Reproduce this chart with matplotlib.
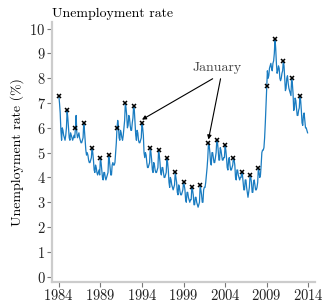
import numpy as np
import matplotlib
matplotlib.use("Agg")
import matplotlib.pyplot as plt

# monthly unemployment rate (%), Jan..Dec, one row per year
years = list(range(1984, 2014))
rates = [
    [7.3, 7.0, 6.6, 5.9, 5.5, 6.0, 5.9, 5.7, 5.6, 5.5, 5.7, 6.0],  # 1984
    [6.7, 6.4, 6.0, 5.6, 5.5, 5.8, 5.7, 5.6, 5.5, 5.6, 5.7, 5.6],  # 1985
    [6.0, 6.5, 5.8, 5.6, 5.7, 5.8, 5.6, 5.5, 5.4, 5.4, 5.5, 5.6],  # 1986
    [6.2, 5.9, 5.5, 5.1, 4.9, 5.0, 4.9, 4.7, 4.6, 4.6, 4.7, 4.8],  # 1987
    [5.2, 5.0, 4.7, 4.3, 4.2, 4.5, 4.4, 4.2, 4.1, 4.2, 4.3, 4.1],  # 1988
    [4.8, 4.6, 4.3, 4.0, 3.9, 4.2, 4.2, 4.0, 3.9, 4.0, 4.1, 4.2],  # 1989
    [4.9, 4.7, 4.4, 4.1, 4.1, 4.5, 4.6, 4.5, 4.5, 4.6, 5.0, 5.4],  # 1990
    [6.0, 6.3, 6.1, 5.6, 5.5, 5.9, 5.8, 5.6, 5.5, 5.7, 6.0, 6.3],  # 1991
    [7.0, 6.8, 6.5, 6.0, 6.1, 6.5, 6.4, 6.1, 5.9, 5.9, 6.2, 6.4],  # 1992
    [6.9, 6.7, 6.2, 5.7, 5.5, 5.9, 5.8, 5.5, 5.4, 5.4, 5.5, 5.6],  # 1993
    [6.2, 6.0, 5.7, 5.0, 4.8, 5.0, 4.9, 4.6, 4.4, 4.4, 4.5, 4.6],  # 1994
    [5.2, 5.0, 4.7, 4.3, 4.2, 4.6, 4.5, 4.3, 4.2, 4.2, 4.3, 4.4],  # 1995
    [5.1, 4.9, 4.6, 4.2, 4.1, 4.4, 4.4, 4.2, 4.0, 4.0, 4.1, 4.2],  # 1996
    [4.8, 4.6, 4.3, 3.8, 3.6, 4.0, 3.9, 3.7, 3.6, 3.5, 3.6, 3.7],  # 1997
    [4.2, 4.0, 3.8, 3.4, 3.3, 3.7, 3.6, 3.4, 3.3, 3.3, 3.4, 3.5],  # 1998
    [3.8, 3.7, 3.5, 3.1, 3.0, 3.4, 3.4, 3.2, 3.1, 3.0, 3.1, 3.1],  # 1999
    [3.6, 3.5, 3.3, 2.9, 2.9, 3.2, 3.2, 3.0, 2.9, 2.8, 2.9, 3.0],  # 2000
    [3.7, 3.5, 3.3, 3.0, 3.0, 3.5, 3.6, 3.6, 3.8, 4.1, 4.4, 4.8],  # 2001
    [5.4, 5.3, 5.0, 4.6, 4.5, 5.0, 5.0, 4.8, 4.6, 4.6, 4.8, 5.0],  # 2002
    [5.5, 5.4, 5.1, 4.7, 4.7, 5.2, 5.1, 4.9, 4.7, 4.7, 4.8, 4.8],  # 2003
    [5.3, 5.1, 4.8, 4.4, 4.3, 4.7, 4.8, 4.5, 4.3, 4.3, 4.4, 4.5],  # 2004
    [4.8, 4.7, 4.5, 4.0, 3.9, 4.3, 4.3, 4.1, 4.0, 3.9, 4.0, 4.0],  # 2005
    [4.2, 4.1, 3.8, 3.5, 3.5, 3.9, 3.9, 3.6, 3.4, 3.2, 3.4, 3.6],  # 2006
    [4.1, 4.0, 3.8, 3.4, 3.4, 3.8, 3.9, 3.7, 3.5, 3.5, 3.6, 3.8],  # 2007
    [4.4, 4.2, 4.0, 4.1, 4.5, 5.0, 5.1, 5.1, 5.2, 5.6, 6.2, 6.9],  # 2008
    [7.7, 8.3, 8.0, 8.1, 8.4, 8.5, 8.6, 8.4, 8.3, 8.6, 8.7, 9.0],  # 2009
    [9.6, 9.2, 8.6, 8.2, 8.3, 8.5, 8.4, 8.0, 7.9, 8.0, 8.2, 8.3],  # 2010
    [8.7, 8.5, 8.0, 7.5, 7.6, 8.0, 8.1, 7.8, 7.6, 7.5, 7.4, 7.3],  # 2011
    [8.0, 7.8, 7.4, 6.7, 6.8, 7.2, 7.1, 6.8, 6.5, 6.5, 6.7, 6.8],  # 2012
    [7.3, 7.1, 6.7, 6.2, 6.1, 6.5, 6.6, 6.3, 6.0, 6.0, 5.9, 5.8],  # 2013
]
xticks = [1984, 1989, 1994, 1999, 2004, 2009, 2014]
yticks = list(range(0, 11))
annot_years = [1994, 2002]

plt.rcParams["font.family"] = ["cmr10", "DejaVu Serif"]
plt.rcParams["axes.formatter.use_mathtext"] = True
plt.rcParams["mathtext.fontset"] = "cm"

values = np.array(rates).ravel()
t = np.array([y + m / 12 for y in years for m in range(12)])
jan_t = np.array(years, dtype=float)
jan_v = np.array([r[0] for r in rates])

fig = plt.figure(figsize=(3.24, 3.04), dpi=100)
ax = fig.add_axes([0.162, 0.072, 0.81, 0.855])
ax.plot(t, values, color="#1a7cc1", lw=0.9)
ax.plot(jan_t, jan_v, "x", color="black", ms=3.5, mew=1.1)

ax.set_xlim(1983.24, 2014.8)
ax.set_ylim(-0.22, 10.26)
ax.set_xticks(xticks)
ax.set_yticks(yticks)
ax.tick_params(colors="#777777", labelcolor="#222222", labelsize=10.5,
               length=3.5, width=0.8, pad=1.5)
ax.tick_params(axis="x", pad=1)
for s in ("top", "right"):
    ax.spines[s].set_visible(False)
for s in ("left", "bottom"):
    ax.spines[s].set_color("#cccccc")
    ax.spines[s].set_linewidth(1.6)

ax.set_ylabel("Unemployment rate (%)", fontsize=10, labelpad=4)
ax.set_title("Unemployment rate", loc="left", fontsize=10, pad=4)

ax.text(2003.0, 8.4, "January", ha="center", va="center", fontsize=10, color="#444444")
starts = [(2002.5, 7.98), (2003.45, 7.98)]
for yr, st in zip(annot_years, starts):
    v = jan_v[years.index(yr)]
    ax.annotate("", xy=(yr, v + 0.13), xytext=st,
                arrowprops=dict(arrowstyle="-|>", color="black", lw=0.8,
                                shrinkA=0, shrinkB=0, mutation_scale=6))

fig.savefig("out.png", dpi=100)
